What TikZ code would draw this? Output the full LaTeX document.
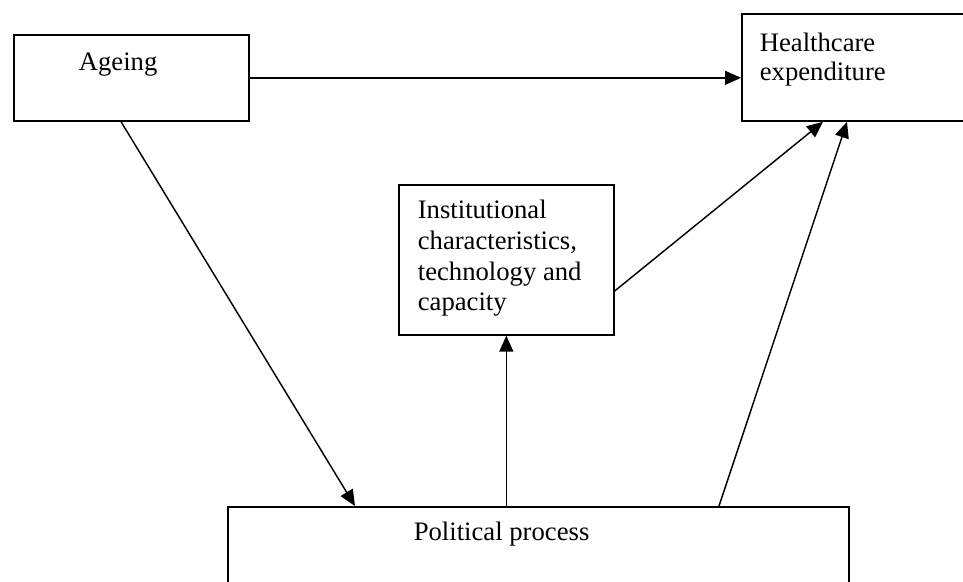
\documentclass[tikz,border=0pt]{standalone}
\usepackage{fontspec}
\setmainfont{Liberation Serif}
\usetikzlibrary{positioning,calc,arrows.meta}

\begin{document}
\begin{tikzpicture}[x=0.45pt, y=-0.45pt,
    >={Triangle[length=7.2pt, width=6.3pt]},
    box/.style={draw = black, line width = 0.75pt, anchor = north west,
        inner ysep = 0pt, align = flush left, text = black,
        font = \fontsize{12pt}{13.8pt}\selectfont}
    ]

        \useasboundingbox (0,0) rectangle (963,582);
        \clip (0,0) rectangle (963,582);

        %Ageing
        \node[box, inner xsep = 29.25pt, text width = 47.25pt,
            text height = 16.2pt, text depth = 22.5pt] (ageing) at (13,34) {Ageing};

        %Healthcare expenditure
        \node[box, inner xsep = 8.1pt, text width = 93.6pt,
            text height = 16.9pt, text depth = 31.3pt,
            font = \fontsize{12pt}{12.9pt}\selectfont] (health) at (741,13) {Healthcare\\expenditure};

        %Institutional
        \node[box, inner xsep = 8.55pt, text width = 79.65pt,
            text height = 15.3pt, text depth = 52.2pt] (inst) at (398,184)
            {Institutional\\characteristics,\\technology and\\capacity};

        %political process
        \node[box, inner xsep = 83.7pt, text width = 112pt,
            text height = 15.3pt, text depth = 27pt] (pol) at (227,506) {Political process};

        \path[->, line width = 0.65pt]

            %Ageing
            (ageing.east) edge (ageing.east -| health.west)
            ($(ageing.south west) + (108,0)$) edge ($(pol.north west) + (128,0)$)

            %to institutions
            (pol.north -| inst.south) edge (inst.south)

            %to healthcare
            ($(inst.north east) + (0,107)$) edge ($(health.south west) + (82,0)$)
            ($(pol.north west) + (492,0)$) edge ($(health.south west) + (106,0)$)
            ;

\end{tikzpicture}
\end{document}
